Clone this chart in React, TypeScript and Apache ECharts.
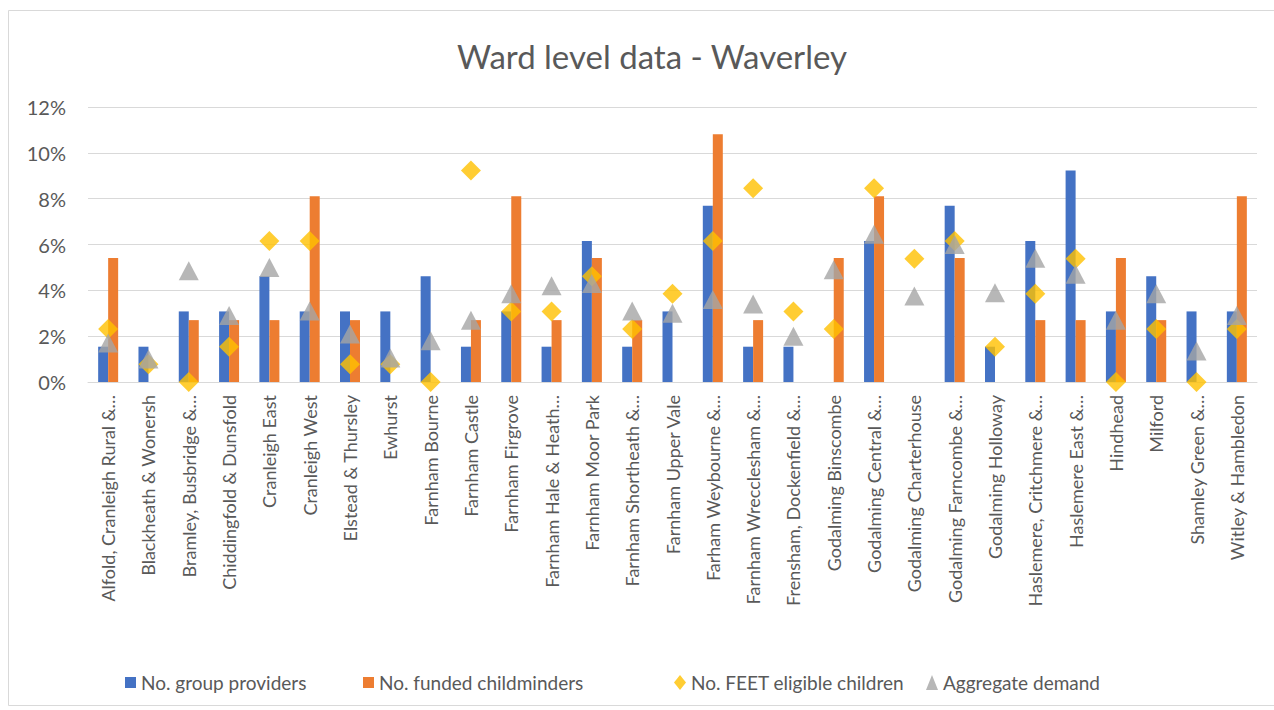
import React, { useEffect, useRef } from "react";
import * as echarts from "echarts";

const categories = [
  "Alfold, Cranleigh Rural &…",
  "Blackheath & Wonersh",
  "Bramley, Busbridge &…",
  "Chiddingfold & Dunsfold",
  "Cranleigh East",
  "Cranleigh West",
  "Elstead & Thursley",
  "Ewhurst",
  "Farnham Bourne",
  "Farnham Castle",
  "Farnham Firgrove",
  "Farnham Hale & Heath…",
  "Farnham Moor Park",
  "Farnham Shortheath &…",
  "Farnham Upper Vale",
  "Farham Weybourne &…",
  "Farnham Wrecclesham &…",
  "Frensham, Dockenfield &…",
  "Godalming Binscombe",
  "Godalming Central &…",
  "Godalming Charterhouse",
  "Godalming Farncombe &…",
  "Godalming Holloway",
  "Haslemere, Critchmere &…",
  "Haslemere East &…",
  "Hindhead",
  "Milford",
  "Shamley Green &…",
  "Witley & Hambledon",
];

const groupProviders = [1.54, 1.54, 3.08, 3.08, 4.62, 3.08, 3.08, 3.08, 4.62, 1.54, 3.08, 1.54, 6.15, 1.54, 3.08, 7.69, 1.54, 1.54, 0, 6.15, 0, 7.69, 1.54, 6.15, 9.23, 3.08, 4.62, 3.08, 3.08];
const fundedChildminders = [5.41, 0, 2.7, 2.7, 2.7, 8.11, 2.7, 0, 0, 2.7, 8.11, 2.7, 5.41, 2.7, 0, 10.81, 2.7, 0, 5.41, 8.11, 0, 5.41, 0, 2.7, 2.7, 5.41, 2.7, 0, 8.11];
const feetEligible = [2.31, 0.77, 0, 1.54, 6.15, 6.15, 0.77, 0.77, 0, 9.23, 3.08, 3.08, 4.62, 2.31, 3.85, 6.15, 8.46, 3.08, 2.31, 8.46, 5.38, 6.15, 1.54, 3.85, 5.38, 0, 2.31, 0, 2.31];
const aggregateDemand = [1.7, 1.0, 4.85, 2.9, 5.0, 3.1, 2.1, 1.05, 1.8, 2.7, 3.85, 4.2, 4.3, 3.1, 3.0, 3.6, 3.4, 2.0, 4.9, 6.45, 3.75, 6.0, 3.9, 5.4, 4.7, 2.7, 3.85, 1.35, 2.9];

const seriesNames = ["No. group providers", "No. funded childminders", "No. FEET eligible children", "Aggregate demand"];

const FONT = "Lato, 'Open Sans', sans-serif";
const TXT = "#595959";

export default function App() {
  const ref = useRef<HTMLDivElement>(null);
  useEffect(() => {
    if (!ref.current) return;
    const chart = echarts.init(ref.current, undefined, { renderer: "svg" });
    const legendBase = {
      top: 668,
      textStyle: { fontFamily: FONT, fontSize: 19, color: TXT },
      itemGap: 0,
    };
    chart.setOption({
      animation: false,
      backgroundColor: "#ffffff",
      textStyle: { fontFamily: FONT },
      title: {
        text: "Ward level data - Waverley",
        left: 647,
        textAlign: "center",
        top: 34,
        textStyle: { fontFamily: FONT, fontSize: 33, fontWeight: "normal", color: TXT },
      },
      graphic: [
        {
          type: "rect",
          shape: { x: 8.5, y: 10.5, width: 1275, height: 695 },
          style: { fill: "none", stroke: "#d9d9d9", lineWidth: 1 },
          silent: true,
        },
      ],
      legend: [
        { ...legendBase, left: 120, itemWidth: 11, itemHeight: 11, data: [{ name: seriesNames[0], icon: "rect" }] },
        { ...legendBase, left: 358, itemWidth: 11, itemHeight: 11, data: [{ name: seriesNames[1], icon: "rect" }] },
        { ...legendBase, left: 669, itemWidth: 12, itemHeight: 15, data: [{ name: seriesNames[2], icon: "diamond" }] },
        { ...legendBase, left: 921, itemWidth: 12, itemHeight: 15, data: [{ name: seriesNames[3], icon: "triangle" }] },
      ],
      grid: { left: 88, right: 17, top: 107, bottom: 328, containLabel: false },
      xAxis: {
        type: "category",
        data: categories,
        axisLine: { show: true, lineStyle: { color: "#d9d9d9" } },
        axisTick: { show: false },
        axisLabel: {
          rotate: 90,
          interval: 0,
          margin: 13,
          fontFamily: FONT,
          fontSize: 18,
          color: TXT,
        },
      },
      yAxis: {
        type: "value",
        min: 0,
        max: 12,
        interval: 2,
        axisLine: { show: false },
        axisTick: { show: false },
        axisLabel: { formatter: "{value}%", fontFamily: FONT, fontSize: 20, color: TXT, margin: 22 },
        splitLine: { lineStyle: { color: "#d9d9d9", width: 1 } },
      },
      series: [
        {
          name: seriesNames[0],
          type: "bar",
          data: groupProviders,
          barWidth: 10,
          barGap: "0%",
          itemStyle: { color: "#4472C4" },
        },
        {
          name: seriesNames[1],
          type: "bar",
          data: fundedChildminders,
          barWidth: 10,
          barGap: "0%",
          itemStyle: { color: "#ED7D31" },
        },
        {
          name: seriesNames[2],
          type: "scatter",
          data: feetEligible,
          symbol: "diamond",
          symbolSize: [20, 20],
          itemStyle: { color: "#FFC000" },
          z: 3,
        },
        {
          name: seriesNames[3],
          type: "scatter",
          data: aggregateDemand,
          symbol: "triangle",
          symbolSize: [20, 19],
          itemStyle: { color: "#A5A5A5" },
          z: 4,
        },
      ],
    });
    return () => chart.dispose();
  }, []);
  return (
    <div style={{ position: "fixed", left: 0, top: 0, width: 1274, height: 710, overflow: "hidden", background: "#fff" }}>
      <div ref={ref} style={{ width: 1274, height: 710 }} />
    </div>
  );
}
